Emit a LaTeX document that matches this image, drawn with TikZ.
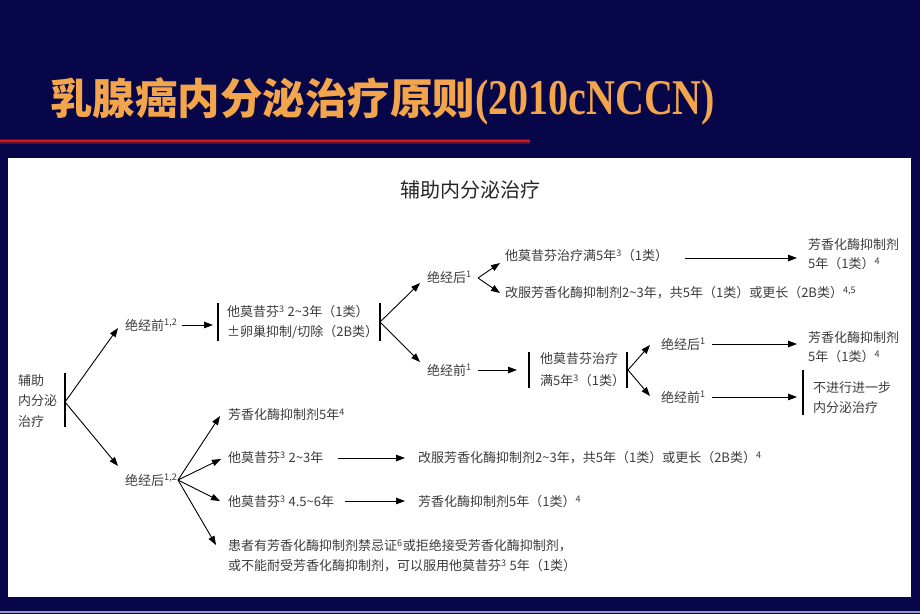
\documentclass[tikz,border=0pt]{standalone}
\usepackage{fontspec}
\setmainfont{Noto Sans CJK SC}
\newfontfamily\ttlfont{Liberation Serif}
\usetikzlibrary{arrows.meta}
\definecolor{navy}{RGB}{6,6,72}
\definecolor{titleor}{RGB}{242,165,75}
\definecolor{tgray}{RGB}{60,60,60}
\definecolor{redline}{RGB}{215,25,20}
\definecolor{lav}{RGB}{150,150,215}
\tikzset{
  txt/.style={anchor=west, inner sep=0pt, text=tgray, font=\fontsize{13}{20}\selectfont},
  ml/.style={align=left},
  arr/.style={-{Triangle[length=9pt,width=6.5pt]}, line width=0.9pt, black},
  barline/.style={line width=1.1pt, black}
}
\begin{document}
\begin{tikzpicture}[x=1pt,y=-1pt]
\useasboundingbox (0,0) rectangle (920,614);
\fill[navy] (0,0) rectangle (920,614);
% title
\node[anchor=west, inner sep=0pt, text=titleor] (ttl) at (50,101)
  {{\bfseries\fontsize{42.5}{46}\selectfont 乳腺癌内分泌治疗原则}\scalebox{0.8}[1]{\ttlfont\bfseries\fontsize{50}{50}\selectfont (2010cNCCN)}};
% red line
\draw[line width=5pt, redline!40!navy] (0,141) -- (530,141);
\draw[line width=2.6pt, redline] (0,141) -- (530,141);
% panel
\fill[white] (8,158) rectangle (911,597);
\fill[lav] (0,610.5) rectangle (920,613);
% panel title
\node[inner sep=0pt, text=black!85, font=\fontsize{20}{22}\selectfont] (pt) at (470,190) {辅助内分泌治疗};

% nodes
\node[txt, ml, font=\fontsize{13}{20.5}\selectfont] (root) at (18,401) {辅助\\内分泌\\治疗};
\node[txt] (pre12) at (125,325) {绝经前\textsuperscript{1,2}};
\node[txt] (post12) at (125,480) {绝经后\textsuperscript{1,2}};
\node[txt, ml] (tam1) at (227,322) {他莫昔芬\textsuperscript{3} 2\textasciitilde3年（1类）\\±卵巢抑制/切除（2B类）};
\node[txt] (post1) at (427,277) {绝经后\textsuperscript{1}};
\node[txt] (tam5a) at (505,256) {他莫昔芬治疗满5年\textsuperscript{3}（1类）};
\node[txt, ml, font=\fontsize{13}{19}\selectfont] (ai1) at (808,254.5) {芳香化酶抑制剂\\5年（1类）\textsuperscript{4}};
\node[txt] (sw1) at (505,293) {改服芳香化酶抑制剂2\textasciitilde3年，共5年（1类）或更长（2B类）\textsuperscript{4,5}};
\node[txt] (pre1) at (427,370) {绝经前\textsuperscript{1}};
\node[txt, ml, font=\fontsize{13}{22}\selectfont] (tam5b) at (540,370) {他莫昔芬治疗\\满5年\textsuperscript{3}（1类）};
\node[txt] (post1b) at (661,344) {绝经后\textsuperscript{1}};
\node[txt] (pre1b) at (661,397) {绝经前\textsuperscript{1}};
\node[txt, ml, font=\fontsize{13}{19}\selectfont] (ai2) at (808,347.5) {芳香化酶抑制剂\\5年（1类）\textsuperscript{4}};
\node[txt, ml] (none) at (813,398) {不进行进一步\\内分泌治疗};
\node[txt] (ai3) at (228,415) {芳香化酶抑制剂5年\textsuperscript{4}};
\node[txt] (tam23) at (228,458) {他莫昔芬\textsuperscript{3} 2\textasciitilde3年};
\node[txt] (tam45) at (228,502) {他莫昔芬\textsuperscript{3} 4.5\textasciitilde6年};
\node[txt, ml] (contra) at (228,556) {患者有芳香化酶抑制剂禁忌证\textsuperscript{6}或拒绝接受芳香化酶抑制剂，\\或不能耐受芳香化酶抑制剂，可以服用他莫昔芬\textsuperscript{3} 5年（1类）};
\node[txt] (sw2) at (418,458) {改服芳香化酶抑制剂2\textasciitilde3年，共5年（1类）或更长（2B类）\textsuperscript{4}};
\node[txt] (ai4) at (418,502) {芳香化酶抑制剂5年（1类）\textsuperscript{4}};

% coordinates
\coordinate (v0) at (65,402);
\coordinate (t0a) at (118,328);
\coordinate (t0b) at (118,466);
\coordinate (a1s) at (182,325);
\coordinate (a1e) at (213,325);
\coordinate (v1) at (380,322);
\coordinate (t1a) at (420,283);
\coordinate (t1b) at (420,362);
\coordinate (v2) at (478,278);
\coordinate (t2a) at (500,263);
\coordinate (t2b) at (500,293);
\coordinate (a2s) at (685,258);
\coordinate (a2e) at (797,258);
\coordinate (a3s) at (478,370);
\coordinate (a3e) at (517,370);
\coordinate (v3) at (628,370);
\coordinate (t3a) at (650,345);
\coordinate (t3b) at (650,396);
\coordinate (a4s) at (712,344);
\coordinate (a4e) at (797,344);
\coordinate (a5s) at (712,397);
\coordinate (a5e) at (797,397);
\coordinate (v4) at (178,480);
\coordinate (t4a) at (220,416);
\coordinate (t4b) at (221,459);
\coordinate (t4c) at (220,501);
\coordinate (t4d) at (216,545);
\coordinate (a6s) at (338,458);
\coordinate (a6e) at (405,458);
\coordinate (a7s) at (345,501);
\coordinate (a7e) at (405,501);

% bars
\draw[barline] (65,373) -- (65,427);
\draw[barline] (218,303) -- (218,341);
\draw[barline] (380,303) -- (380,341);
\draw[barline] (529,352) -- (529,388);
\draw[barline] (627,352) -- (627,388);
\draw[barline] (803,370) -- (803,415);

% arrows
\draw[arr] (v0) -- (t0a);
\draw[arr] (v0) -- (t0b);
\draw[arr] (a1s) -- (a1e);
\draw[arr] (v1) -- (t1a);
\draw[arr] (v1) -- (t1b);
\draw[arr] (v2) -- (t2a);
\draw[arr] (v2) -- (t2b);
\draw[arr] (a2s) -- (a2e);
\draw[arr] (a3s) -- (a3e);
\draw[arr] (v3) -- (t3a);
\draw[arr] (v3) -- (t3b);
\draw[arr] (a4s) -- (a4e);
\draw[arr] (a5s) -- (a5e);
\draw[arr] (v4) -- (t4a);
\draw[arr] (v4) -- (t4b);
\draw[arr] (v4) -- (t4c);
\draw[arr] (v4) -- (t4d);
\draw[arr] (a6s) -- (a6e);
\draw[arr] (a7s) -- (a7e);
\end{tikzpicture}
\end{document}
